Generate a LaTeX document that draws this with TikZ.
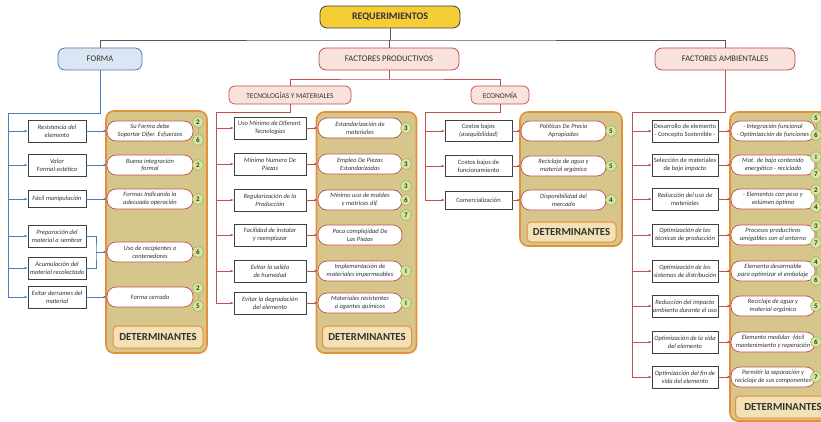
\documentclass[tikz,border=0pt]{standalone}
\usepackage{fontspec}
\setmainfont{Carlito}
\usetikzlibrary{arrows.meta}
\definecolor{goldf}{HTML}{F4CD37}
\definecolor{darkb}{HTML}{404040}
\definecolor{bluef}{HTML}{DCE6F2}
\definecolor{bluel}{HTML}{4A7EBB}
\definecolor{pinkf}{HTML}{F9E1DC}
\definecolor{redc}{HTML}{C0504D}
\definecolor{grayl}{HTML}{595959}
\definecolor{khaki}{HTML}{D6C68C}
\definecolor{orangec}{HTML}{E58F3A}
\definecolor{detf}{HTML}{F3E0B4}
\definecolor{greenf}{HTML}{D8E4A3}
\definecolor{greend}{HTML}{9BBB59}
\definecolor{txt}{HTML}{333333}
\tikzset{
  topbox/.style={draw, rounded corners=7pt, line width=0.8pt, minimum height=22pt, inner sep=1pt, text=txt, font=\fontsize{8.6}{9}\selectfont},
  subbox/.style={draw=redc, fill=pinkf, rounded corners=6pt, line width=0.7pt, minimum height=18pt, inner sep=1pt, text=txt, font=\fontsize{7.4}{8}\selectfont},
  item/.style={draw=darkb, fill=white, line width=0.6pt, minimum height=22pt, inner sep=0.3pt, align=center, text=txt, font=\fontsize{6.5}{7.6}\selectfont\itshape},
  itemu/.style={item, font=\fontsize{6.5}{7.6}\selectfont},
  pill/.style={draw=redc, fill=white, line width=0.7pt, rounded corners=9pt, minimum height=20pt, inner sep=0.3pt, align=center, text=txt, font=\fontsize{6.5}{7.6}\selectfont\itshape},
  num/.style={circle, draw=greend, fill=greenf, line width=0.6pt, minimum size=11pt, inner sep=0pt, text=txt, font=\fontsize{7}{7}\selectfont\bfseries},
  panel/.style={draw=orangec, fill=khaki, line width=1.6pt, rounded corners=8pt},
  det/.style={draw=orangec, fill=detf, line width=1pt, rounded corners=4pt, text=txt, font=\fontsize{10.8}{11}\selectfont\bfseries},
  gline/.style={draw=grayl, line width=0.9pt},
  bline/.style={draw=bluel, line width=0.8pt},
  rline/.style={draw=redc, line width=0.8pt},
  barr/.style={bline, -{Latex[length=3pt,width=2.6pt]}},
  rarr/.style={rline, -{Latex[length=3pt,width=2.6pt]}},
  nline/.style={draw=greend, line width=0.6pt},
}
\begin{document}
\begin{tikzpicture}[x=1pt,y=-1pt]
\useasboundingbox (0,0) rectangle (821,422);
\fill[white] (0,0) rectangle (821,422);

% ---------- top level ----------
\node[topbox, fill=goldf, draw=darkb, minimum width=140pt, font=\fontsize{10}{11}\selectfont\bfseries] (req) at (390,17) {REQUERIMIENTOS};
\node[topbox, fill=bluef, draw=bluel, minimum width=84pt] (forma) at (100,59) {FORMA};
\node[topbox, fill=pinkf, draw=redc, minimum width=140pt] (fprod) at (389,59) {FACTORES PRODUCTIVOS};
\node[topbox, fill=pinkf, draw=redc, minimum width=140pt] (famb) at (725,59) {FACTORES AMBIENTALES};
\coordinate (top) at (390,40);
\draw[gline] (req.south) -- (top);
\draw[gline] (forma.north) |- (top) -| (famb.north);
\draw[gline] (fprod.north) -- (fprod.north |- top);

\node[subbox, minimum width=122pt] (tec) at (290,95) {TECNOLOGÍAS Y MATERIALES};
\node[subbox, minimum width=58pt] (eco) at (500,95) {ECONOMÍA};
\coordinate (mid) at (389,79);
\draw[rline] (fprod.south) -- (mid);
\draw[rline] (tec.north) |- (mid) -| (eco.north);

% ---------- panels ----------
\node[panel, minimum width=101pt, minimum height=242pt] (pan1) at (156.5,232) {};
\node[panel, minimum width=100pt, minimum height=241pt] (pan2) at (366.5,232.5) {};
\node[panel, minimum width=102pt, minimum height=134pt] (pan3) at (571,179) {};
\node[panel, minimum width=106pt, minimum height=309pt] (pan4) at (783,266.5) {};
\node[det, minimum width=90pt, minimum height=22pt] (det1) at (158,337) {DETERMINANTES};
\node[det, minimum width=89pt, minimum height=22pt] (det2) at (367,337) {DETERMINANTES};
\node[det, minimum width=89pt, minimum height=20pt] (det3) at (571.5,232) {DETERMINANTES};
\node[det, minimum width=95pt, minimum height=22pt] (det4) at (783,407) {DETERMINANTES};

% ---------- FORMA ----------
\coordinate (fA) at (100,113);
\coordinate (fL) at (8,113);
\coordinate (fB) at (8,297);
\draw[bline] (forma.south) -- (fA) -- (fL) -- (fB);
\node[item, minimum width=58pt] (f1) at (57,131) {Resistencia del\\elemento};
\node[item, minimum width=58pt] (f2) at (57,165) {Valor\\Formal-estético};
\node[item, minimum width=58pt, minimum height=17pt] (f3) at (57,199) {Fácil manipulación};
\node[item, minimum width=58pt] (f4) at (57,236) {Preparación del\\material a sembrar};
\node[item, minimum width=58pt] (f5) at (57,268) {Acumulación del\\material recolectado};
\node[item, minimum width=58pt] (f6) at (57,297) {Evitar derrames del\\material};
\foreach \n in {f1,f2,f3,f4,f5,f6} \draw[barr] (fL |- \n.west) -- (\n.west);

\node[pill, minimum width=86pt] (p1) at (150,131) {Su Forma debe\\Soportar Difer. Esfuerzos};
\node[pill, minimum width=86pt] (p2) at (150,165) {Buena integración\\formal};
\node[pill, minimum width=86pt] (p3) at (150,199) {Formas Indicando la\\adecuada operación};
\node[pill, minimum width=86pt] (p4) at (150,252) {Uso de recipientes o\\contenedores};
\node[pill, minimum width=86pt] (p5) at (150,297) {Forma cerrada};
\coordinate (fk) at (96,252);
\draw[bline] (f4.east) -| (fk) |- (f5.east);
\draw[barr] (fk) -- (p4.west);
\foreach \a/\b in {f1/p1,f2/p2,f3/p3,f6/p5} \draw[barr] (\a.east) -- (\b.west);

\node[num] (n1a) at (198,122) {2};
\node[num] (n1b) at (198,140) {6};
\node[num] (n2) at (198,165) {2};
\node[num] (n3) at (198,199) {2};
\node[num] (n4) at (198,252) {6};
\node[num] (n5a) at (198,288) {2};
\node[num] (n5b) at (198,306) {5};
\draw[nline] (n1a) -- (n1b);
\draw[nline] (n5a) -- (n5b);

% ---------- TECNOLOGIAS ----------
\coordinate (tA) at (290,112);
\coordinate (tL) at (216,112);
\coordinate (tB) at (216,303);
\draw[rline] (tec.south) -- (tA) -- (tL) -- (tB);
\node[item, minimum width=72pt] (t1) at (270,128) {Uso Mínimo de Diferent.\\Tecnologías};
\node[item, minimum width=72pt] (t2) at (270,164) {Mínimo Numero De\\Piezas};
\node[item, minimum width=72pt] (t3) at (270,200) {Regularización de la\\Producción};
\node[item, minimum width=72pt] (t4) at (270,235) {Facilidad de instalar\\y reemplazar};
\node[item, minimum width=72pt] (t5) at (270,271) {Evitar la salida\\de humedad};
\node[item, minimum width=72pt] (t6) at (270,303) {Evitar la degradación\\del elemento};
\foreach \n in {t1,t2,t3,t4,t5,t6} \draw[rarr] (tL |- \n.west) -- (\n.west);

\node[pill, minimum width=84pt] (q1) at (360,128) {Estandarización de\\materiales};
\node[pill, minimum width=84pt] (q2) at (360,164) {Empleo De Piezas\\Estandarizadas};
\node[pill, minimum width=84pt] (q3) at (360,200) {Mínimo uso de moldes\\y matrices dif.};
\node[pill, minimum width=84pt] (q4) at (360,235) {Poca complejidad De\\Las Piezas};
\node[pill, minimum width=84pt] (q5) at (360,271) {Implementación de\\materiales impermeables};
\node[pill, minimum width=84pt] (q6) at (360,303) {Materiales resistentes\\a agentes químicos};
\foreach \a/\b in {t1/q1,t2/q2,t3/q3,t4/q4,t5/q5,t6/q6} \draw[rarr] (\a.east) -- (\b.west);

\node[num] (m1) at (406,128) {3};
\node[num] (m2) at (406,164) {3};
\node[num] (m3a) at (406,186) {3};
\node[num] (m3b) at (406,200) {6};
\node[num] (m3c) at (406,215) {7};
\node[num] (m5) at (406,271) {I};
\node[num] (m6) at (406,303) {I};

% ---------- ECONOMIA ----------
\coordinate (eA) at (500,112);
\coordinate (eL) at (425,112);
\coordinate (eB) at (425,200);
\draw[rline] (eco.south) -- (eA) -- (eL) -- (eB);
\node[itemu, minimum width=67pt, minimum height=21pt] (e1) at (478.5,131) {Costos bajos\\\textit{(asequibilidad)}};
\node[itemu, minimum width=67pt, minimum height=21pt] (e2) at (478.5,166) {Costos bajos de\\funcionamiento};
\node[itemu, minimum width=67pt, minimum height=18pt] (e3) at (478.5,200) {Comercialización};
\foreach \n in {e1,e2,e3} \draw[rarr] (eL |- \n.west) -- (\n.west);

\node[pill, minimum width=85pt] (r1) at (563.5,131) {Políticas De Precio\\Apropiadas};
\node[pill, minimum width=85pt] (r2) at (563.5,166) {Reciclaje de agua y\\material orgánico};
\node[pill, minimum width=85pt] (r3) at (563.5,200) {Disponibilidad del\\mercado};
\foreach \a/\b in {e1/r1,e2/r2,e3/r3} \draw[rarr] (\a.east) -- (\b.west);
\node[num] (k1) at (611,131) {5};
\node[num] (k2) at (611,166) {5};
\node[num] (k3) at (611,200) {4};

% ---------- AMBIENTALES ----------
\coordinate (aA) at (725,112);
\coordinate (aL) at (632,112);
\coordinate (aB) at (632,377);
\draw[rline] (famb.south) -- (aA) -- (aL) -- (aB);
\node[itemu, minimum width=66pt] (a1) at (685,131) {Desarrollo de elemento\\- Concepto Sostenible -};
\node[itemu, minimum width=66pt] (a2) at (685,165) {Selección de materiales\\de \textit{bajo impacto}};
\node[item, minimum width=66pt] (a3) at (685,199) {Reducción del uso de\\materiales};
\node[item, minimum width=66pt] (a4) at (685,235) {Optimización de las\\técnicas de producción};
\node[item, minimum width=66pt] (a5) at (685,271) {Optimización de los\\sistemas de distribución};
\node[item, minimum width=66pt] (a6) at (685,306) {Reducción del impacto\\ambiento durante el uso};
\node[item, minimum width=66pt] (a7) at (685,342) {Optimización de la vida\\del elemento};
\node[item, minimum width=66pt] (a8) at (685,377) {Optimización del fin de\\vida del elemento};
\foreach \n in {a1,a2,a3,a4,a5,a6,a7,a8} \draw[rarr] (aL |- \n.west) -- (\n.west);

\node[pill, minimum width=84pt] (s1) at (773,131) {- Integración funcional\\- Optimización de funciones};
\node[pill, minimum width=84pt] (s2) at (773,165) {Mat. de bajo contenido\\energético - reciclado};
\node[pill, minimum width=84pt] (s3) at (773,199) {- Elementos con peso y\\volúmen óptimo};
\node[pill, minimum width=84pt] (s4) at (773,235) {Procesos productivos\\amigables con el entorno};
\node[pill, minimum width=84pt] (s5) at (773,271) {Elemento desarmable\\para optimizar el embalaje};
\node[pill, minimum width=84pt] (s6) at (773,306) {Reciclaje de agua y\\material orgánico};
\node[pill, minimum width=84pt] (s7) at (773,342) {Elemento modular -fácil\\mantenimiento y reperación};
\node[pill, minimum width=84pt] (s8) at (773,377) {Permitir la separación y\\reciclaje de sus componentes};
\foreach \a/\b in {a1/s1,a2/s2,a3/s3,a4/s4,a5/s5,a6/s6,a7/s7,a8/s8} \draw[rarr] (\a.east) -- (\b.west);

\node[num] (j1a) at (816,118) {5};
\node[num] (j1b) at (816,135) {6};
\node[num] (j2a) at (816,157) {I};
\node[num] (j2b) at (816,174) {7};
\node[num] (j3a) at (816,190) {2};
\node[num] (j3b) at (816,207) {4};
\node[num] (j4a) at (816,226) {3};
\node[num] (j4b) at (816,243) {7};
\node[num] (j5a) at (816,262) {4};
\node[num] (j5b) at (816,280) {6};
\node[num] (j6) at (816,306) {5};
\node[num] (j7) at (816,342) {6};
\node[num] (j8) at (816,377) {7};
\foreach \a/\b in {j1a/j1b,j2a/j2b,j3a/j3b,j4a/j4b,j5a/j5b} \draw[nline] (\a) -- (\b);
\end{tikzpicture}
\end{document}
